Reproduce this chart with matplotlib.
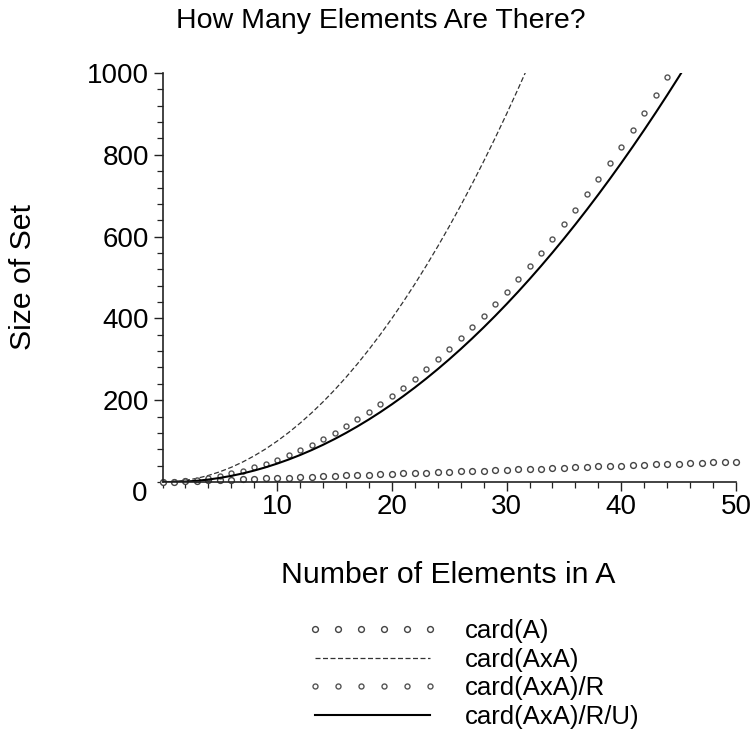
import matplotlib
matplotlib.use("Agg")
import matplotlib.pyplot as plt
from matplotlib.ticker import MultipleLocator

plt.rcParams['font.family'] = ['Liberation Sans', 'DejaVu Sans']

# ---- data ----
n_A = [0, 1, 2, 3, 4, 5, 6, 7, 8, 9, 10, 11, 12, 13, 14, 15, 16, 17, 18, 19, 20,
       21, 22, 23, 24, 25, 26, 27, 28, 29, 30, 31, 32, 33, 34, 35, 36, 37, 38, 39, 40,
       41, 42, 43, 44, 45, 46, 47, 48, 49, 50]
card_A = [0, 1, 2, 3, 4, 5, 6, 7, 8, 9, 10, 11, 12, 13, 14, 15, 16, 17, 18, 19, 20,
          21, 22, 23, 24, 25, 26, 27, 28, 29, 30, 31, 32, 33, 34, 35, 36, 37, 38, 39, 40,
          41, 42, 43, 44, 45, 46, 47, 48, 49, 50]

n_AxA = [0, 1, 2, 3, 4, 5, 6, 7, 8, 9, 10, 11, 12, 13, 14, 15, 16, 17, 18, 19, 20,
         21, 22, 23, 24, 25, 26, 27, 28, 29, 30, 31, 32]
card_AxA = [0, 1, 4, 9, 16, 25, 36, 49, 64, 81, 100, 121, 144, 169, 196, 225, 256,
            289, 324, 361, 400, 441, 484, 529, 576, 625, 676, 729, 784, 841, 900, 961, 1024]

n_R = [0, 1, 2, 3, 4, 5, 6, 7, 8, 9, 10, 11, 12, 13, 14, 15, 16, 17, 18, 19, 20,
       21, 22, 23, 24, 25, 26, 27, 28, 29, 30, 31, 32, 33, 34, 35, 36, 37, 38, 39, 40,
       41, 42, 43, 44]
card_R = [0, 1, 3, 6, 10, 15, 21, 28, 36, 45, 55, 66, 78, 91, 105, 120, 136, 153, 171,
          190, 210, 231, 253, 276, 300, 325, 351, 378, 406, 435, 465, 496, 528, 561, 595,
          630, 666, 703, 741, 780, 820, 861, 903, 946, 990]

n_RU = [0, 1, 2, 3, 4, 5, 6, 7, 8, 9, 10, 11, 12, 13, 14, 15, 16, 17, 18, 19, 20,
        21, 22, 23, 24, 25, 26, 27, 28, 29, 30, 31, 32, 33, 34, 35, 36, 37, 38, 39, 40,
        41, 42, 43, 44, 45, 46]
card_RU = [0, 0, 1, 3, 6, 10, 15, 21, 28, 36, 45, 55, 66, 78, 91, 105, 120, 136, 153,
           171, 190, 210, 231, 253, 276, 300, 325, 351, 378, 406, 435, 465, 496, 528,
           561, 595, 630, 666, 703, 741, 780, 820, 861, 903, 946, 990, 1035]

x_ticks = [10, 20, 30, 40, 50]
y_ticks = [200, 400, 600, 800, 1000]
labels = ['card(A)', 'card(AxA)', 'card(AxA)/R', 'card(AxA)/R/U)']

# ---- figure ----
W, H = 752, 738
fig = plt.figure(figsize=(W / 100, H / 100), dpi=100)
ax = fig.add_axes([162.5 / W, 1 - 482 / H, (736 - 162.5) / W, (482 - 73) / H])

l1, = ax.plot(n_A, card_A, linestyle='none', marker='o', markersize=4.2,
              markerfacecolor='white', markeredgecolor='#444444', markeredgewidth=1.0,
              clip_on=False)
l2, = ax.plot(n_AxA, card_AxA, linestyle=(0, (4, 2)), color='#333333', linewidth=0.9)
l3, = ax.plot(n_R, card_R, linestyle='none', marker='o', markersize=3.6,
              markerfacecolor='white', markeredgecolor='#555555', markeredgewidth=1.0)
l4, = ax.plot(n_RU, card_RU, linestyle='-', color='black', linewidth=1.5)

ax.set_xlim(0, 50)
ax.set_ylim(0, 1000)
for s in ['top', 'right']:
    ax.spines[s].set_visible(False)
for s in ['left', 'bottom']:
    ax.spines[s].set_linewidth(1.2)
    ax.spines[s].set_color('#222222')

ax.set_xticks(x_ticks)
ax.set_yticks(y_ticks)
ax.xaxis.set_minor_locator(MultipleLocator(2))
ax.yaxis.set_minor_locator(MultipleLocator(40))
ax.tick_params(axis='both', which='major', direction='out', length=6.5, width=1.0,
               color='#222222', labelsize=20)
ax.tick_params(axis='both', which='minor', direction='out', length=4, width=0.9,
               color='#222222')
ax.tick_params(axis='x', which='major', pad=2)
ax.tick_params(axis='y', which='major', pad=3)

# zero label at the origin, slightly lowered as in the reference
ax.annotate('0', xy=(0, 0), xycoords=('axes fraction', 'data'),
            xytext=(-15, -12), textcoords='offset pixels', ha='right', va='center',
            fontsize=20)

fig.text(381 / W, 1 - 21 / H, 'How Many Elements Are There?', ha='center', va='center',
         fontsize=20.5)
fig.text(448 / W, 1 - 575 / H, 'Number of Elements in A', ha='center', va='center',
         fontsize=21.8)
fig.text(23 / W, 1 - 277 / H, 'Size of Set', ha='center', va='center',
         rotation=90, fontsize=21.8)

fig.legend([l1, l2, l3, l4], labels, loc='upper left',
           bbox_to_anchor=(307 / W, 1 - 619 / H), frameon=False, fontsize=18.5,
           numpoints=6, handlelength=5.1, handletextpad=1.03, labelspacing=0.18,
           borderpad=0, borderaxespad=0)

fig.savefig('out.png', dpi=100)
